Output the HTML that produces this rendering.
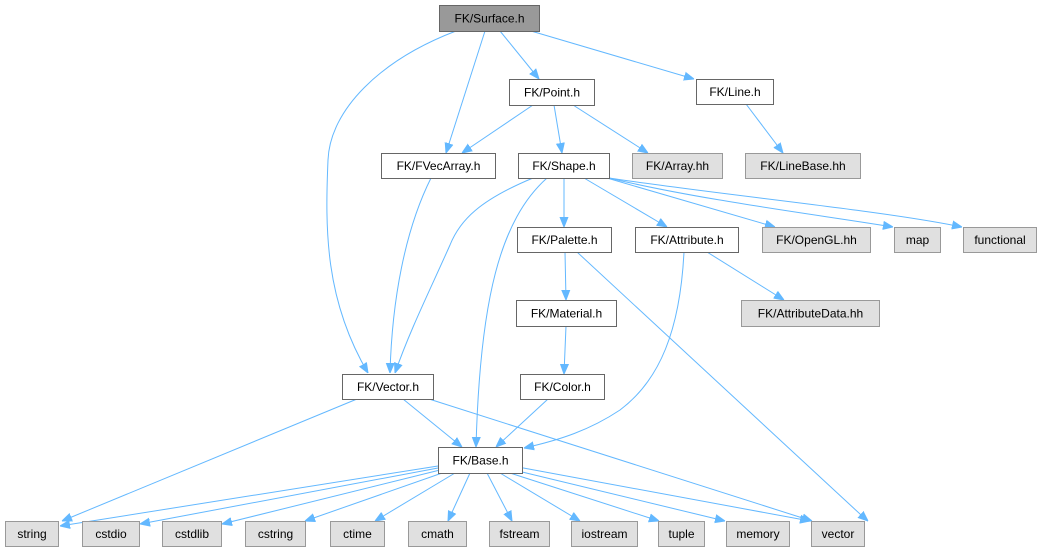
<!DOCTYPE html>
<html><head><meta charset="utf-8"><style>
html,body{margin:0;padding:0;background:#fff;}
svg{display:block;}
text{font-family:"Liberation Sans",Arial,sans-serif;font-size:12px;fill:#000;text-anchor:middle;}
.e{fill:none;stroke:#63b8ff;stroke-width:1;}
.n{fill:#fff;stroke:#666;stroke-width:1;}
.g{fill:#e0e0e0;stroke:#999;stroke-width:1;}
</style></head><body>
<svg width="1047" height="552" viewBox="0 0 1047 552" xmlns="http://www.w3.org/2000/svg">
<defs><marker id="a" viewBox="0 0 10 10" refX="10" refY="5" markerWidth="10" markerHeight="10" markerUnits="userSpaceOnUse" orient="auto"><path d="M0,1 L10,5 L0,9 z" fill="#63b8ff" stroke="#63b8ff"/></marker></defs>
<g class="e" marker-end="url(#a)">
<!-- Surface -->
<path d="M456,31 C380,60 330,110 328,160 C325,230 325,300 368,373"/>
<path d="M485,31 L446,153"/>
<path d="M500,31 L539,79"/>
<path d="M531,31 L694,79"/>
<!-- Point -->
<path d="M533,105 L462,153"/>
<path d="M554,105 L562,153"/>
<path d="M573,105 L648,153"/>
<!-- Line -->
<path d="M746,104 L783,153"/>
<!-- FVecArray -->
<path d="M431,178 C405,230 392,300 390,373"/>
<!-- Shape -->
<path d="M533,178 C480,200 460,220 450,245 C430,290 410,330 395,373"/>
<path d="M547,178 C500,220 480,300 476,447"/>
<path d="M564,178 L564,227"/>
<path d="M584,178 L667,227"/>
<path d="M607,178 L775,227"/>
<path d="M609,178 C700,200 820,215 893,227"/>
<path d="M609,178 C720,195 880,210 962,227"/>
<!-- Palette -->
<path d="M565,252 L566,300"/>
<path d="M577,252 L860,514 L868,521"/>
<!-- Attribute -->
<path d="M684,252 C680,330 660,380 620,410 C590,430 560,440 524,448"/>
<path d="M707,252 L784,300"/>
<!-- Material -->
<path d="M566,326 L564,374"/>
<!-- Color -->
<path d="M548,399 L496,447"/>
<!-- Vector -->
<path d="M357,399 L62,521"/>
<path d="M403,399 L462,447"/>
<path d="M429,399 L812,521"/>
<!-- Base -->
<path d="M438,466 L60,526"/>
<path d="M438,468 L140,524"/>
<path d="M440,470 L222,524"/>
<path d="M445,472 L305,521"/>
<path d="M455,473 L375,521"/>
<path d="M470,473 L448,521"/>
<path d="M487,473 L512,521"/>
<path d="M500,473 L580,521"/>
<path d="M510,473 L659,521"/>
<path d="M518,471 L725,521"/>
<path d="M518,467 L810,521"/>
</g>
<rect x="439.5" y="5.5" width="100" height="26" fill="#999" stroke="#666"/><text x="489.5" y="22.5">FK/Surface.h</text>
<rect class="n" x="509.5" y="79.5" width="85" height="26"/><text x="552" y="96.5">FK/Point.h</text>
<rect class="n" x="696.5" y="79.5" width="77" height="25"/><text x="735" y="96">FK/Line.h</text>
<rect class="n" x="381.5" y="153.5" width="114" height="25"/><text x="438.5" y="170">FK/FVecArray.h</text>
<rect class="n" x="518.5" y="153.5" width="91" height="25"/><text x="564" y="170">FK/Shape.h</text>
<rect class="g" x="632.5" y="153.5" width="90" height="25"/><text x="677.5" y="170">FK/Array.hh</text>
<rect class="g" x="745.5" y="153.5" width="115" height="25"/><text x="803" y="170">FK/LineBase.hh</text>
<rect class="n" x="517.5" y="227.5" width="94" height="25"/><text x="564.5" y="244">FK/Palette.h</text>
<rect class="n" x="635.5" y="227.5" width="103" height="25"/><text x="687" y="244">FK/Attribute.h</text>
<rect class="g" x="762.5" y="227.5" width="108" height="25"/><text x="816.5" y="244">FK/OpenGL.hh</text>
<rect class="g" x="894.5" y="227.5" width="46" height="25"/><text x="917.5" y="244">map</text>
<rect class="g" x="963.5" y="227.5" width="73" height="25"/><text x="1000" y="244">functional</text>
<rect class="n" x="516.5" y="300.5" width="100" height="26"/><text x="566.5" y="317.5">FK/Material.h</text>
<rect class="g" x="741.5" y="300.5" width="138" height="26"/><text x="810.5" y="317.5">FK/AttributeData.hh</text>
<rect class="n" x="342.5" y="374.5" width="91" height="25"/><text x="388" y="391">FK/Vector.h</text>
<rect class="n" x="520.5" y="374.5" width="84" height="25"/><text x="562.5" y="391">FK/Color.h</text>
<rect class="n" x="438.5" y="447.5" width="84" height="26"/><text x="480.5" y="464.5">FK/Base.h</text>
<rect class="g" x="5.5" y="521.5" width="53" height="25"/><text x="32" y="538">string</text>
<rect class="g" x="82.5" y="521.5" width="57" height="25"/><text x="111" y="538">cstdio</text>
<rect class="g" x="162.5" y="521.5" width="59" height="25"/><text x="192" y="538">cstdlib</text>
<rect class="g" x="245.5" y="521.5" width="60" height="25"/><text x="275.5" y="538">cstring</text>
<rect class="g" x="330.5" y="521.5" width="54" height="25"/><text x="357.5" y="538">ctime</text>
<rect class="g" x="408.5" y="521.5" width="58" height="25"/><text x="437.5" y="538">cmath</text>
<rect class="g" x="489.5" y="521.5" width="60" height="25"/><text x="519.5" y="538">fstream</text>
<rect class="g" x="571.5" y="521.5" width="66" height="25"/><text x="604.5" y="538">iostream</text>
<rect class="g" x="658.5" y="521.5" width="46" height="25"/><text x="681.5" y="538">tuple</text>
<rect class="g" x="726.5" y="521.5" width="63" height="25"/><text x="758" y="538">memory</text>
<rect class="g" x="811.5" y="521.5" width="53" height="25"/><text x="838" y="538">vector</text>
</svg>
</body></html>
